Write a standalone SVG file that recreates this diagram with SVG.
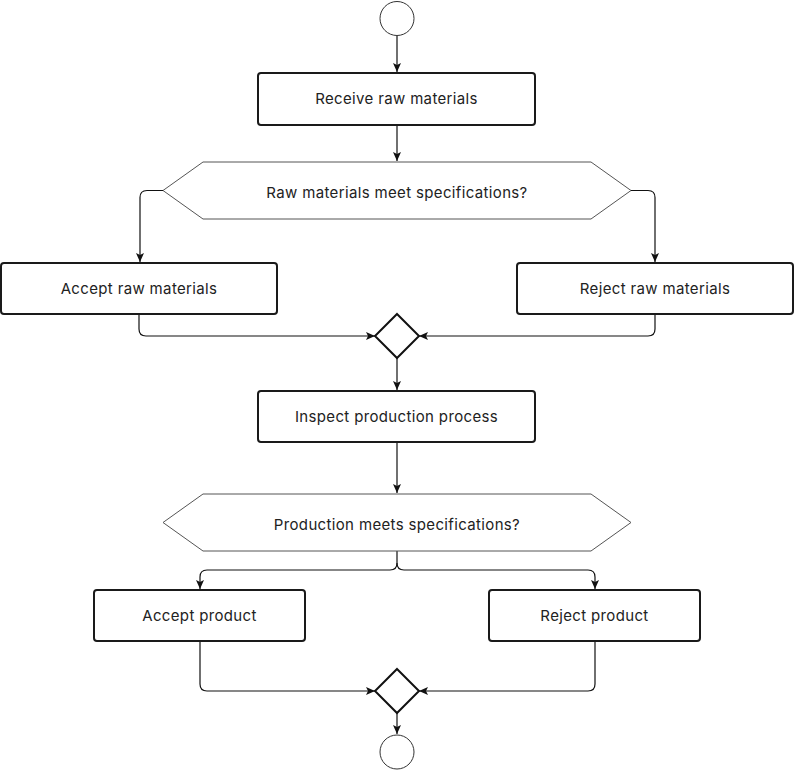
<svg xmlns="http://www.w3.org/2000/svg" width="795" height="770" viewBox="0 0 795 770">
<defs>
<style>
.box{fill:#fff;stroke:#1a1a1a;stroke-width:2}
.hex{fill:#fff;stroke:#555;stroke-width:1}
.dia{fill:#fff;stroke:#111;stroke-width:2}
.circ{fill:#fff;stroke:#333;stroke-width:1}
.edge{fill:none;stroke:#111;stroke-width:1.2}
.lbl{font-family:Inter,"Open Sans",sans-serif;font-size:15px;letter-spacing:0.35px;fill:#222;text-anchor:middle;dominant-baseline:central}
</style>
<marker id="arr" markerWidth="10" markerHeight="10" refX="9" refY="5" orient="auto" markerUnits="userSpaceOnUse">
<path d="M0,1 L9,5 L0,9 L2,5 Z" fill="#111"/>
</marker>
</defs>
<rect width="795" height="770" fill="#fff"/>
<g id="connectors">
<path class="edge" d="M397,36 V72" marker-end="url(#arr)"/>
<path class="edge" d="M397,125 V161" marker-end="url(#arr)"/>
<path class="edge" d="M163,190.5 H147 Q140,190.5 140,197.5 V262" marker-end="url(#arr)"/>
<path class="edge" d="M631,190.5 H648 Q655,190.5 655,197.5 V262" marker-end="url(#arr)"/>
<path class="edge" d="M139,314 V329 Q139,336 146,336 H375" marker-end="url(#arr)"/>
<path class="edge" d="M655,314 V329 Q655,336 648,336 H419" marker-end="url(#arr)"/>
<path class="edge" d="M397,358 V390" marker-end="url(#arr)"/>
<path class="edge" d="M397,442 V493" marker-end="url(#arr)"/>
<path class="edge" d="M397,551 V563 Q397,570 390,570 H207 Q200,570 200,577 V589" marker-end="url(#arr)"/>
<path class="edge" d="M397,563 Q397,570 404,570 H588 Q595,570 595,577 V589" marker-end="url(#arr)"/>
<path class="edge" d="M200,641 V684 Q200,691 207,691 H375" marker-end="url(#arr)"/>
<path class="edge" d="M595,641 V684 Q595,691 588,691 H419" marker-end="url(#arr)"/>
<path class="edge" d="M397,713 V734" marker-end="url(#arr)"/>
</g>
<g id="start"><circle class="circ" cx="397" cy="18.5" r="17"/></g>
<g id="receive"><rect class="box" x="258" y="73" width="277" height="52" rx="3"/><text class="lbl" x="396.5" y="98">Receive raw materials</text></g>
<g id="decision1"><polygon class="hex" points="163,190.5 203,162 591,162 631,190.5 591,219 203,219"/><text class="lbl" x="397" y="192">Raw materials meet specifications?</text></g>
<g id="accept-raw"><rect class="box" x="1" y="263" width="276" height="51" rx="3"/><text class="lbl" x="139" y="288">Accept raw materials</text></g>
<g id="reject-raw"><rect class="box" x="517" y="263" width="276" height="51" rx="3"/><text class="lbl" x="655" y="288">Reject raw materials</text></g>
<g id="merge1"><polygon class="dia" points="397,314 419,336 397,358 375,336"/></g>
<g id="inspect"><rect class="box" x="258" y="391" width="277" height="51" rx="3"/><text class="lbl" x="396.5" y="416">Inspect production process</text></g>
<g id="decision2"><polygon class="hex" points="163,522.5 203,494 591,494 631,522.5 591,551 203,551"/><text class="lbl" x="397" y="524">Production meets specifications?</text></g>
<g id="accept-product"><rect class="box" x="94" y="590" width="211" height="51" rx="3"/><text class="lbl" x="199.5" y="615">Accept product</text></g>
<g id="reject-product"><rect class="box" x="489" y="590" width="211" height="51" rx="3"/><text class="lbl" x="594.5" y="615">Reject product</text></g>
<g id="merge2"><polygon class="dia" points="397,669 419,691 397,713 375,691"/></g>
<g id="end"><circle class="circ" cx="397" cy="752" r="17"/></g>
</svg>
